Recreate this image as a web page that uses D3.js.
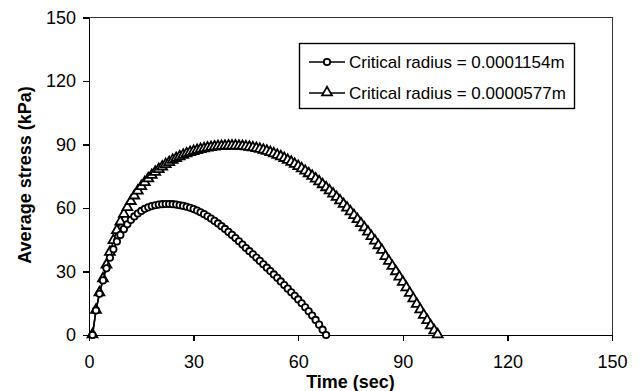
<!DOCTYPE html>
<head>
<meta charset="utf-8">
<title>Average stress vs time</title>
<script src="https://d3js.org/d3.v7.min.js"></script>
<style>
body { margin: 0; background: #fff; }
.axis path, .axis line { stroke: #000; stroke-width: 1.4; shape-rendering: crispEdges; }
.axis text { font-family: "Liberation Sans", Arial, sans-serif; font-size: 18px; fill: #000; }
.frame { fill: none; stroke: #333; stroke-width: 1; shape-rendering: crispEdges; }
.serie { fill: none; stroke: #000; stroke-width: 1.6; }
.mark { fill: #fff; stroke: #000; stroke-width: 1.8; }
.title { font-family: "Liberation Sans", Arial, sans-serif; font-weight: bold; font-size: 18px; fill: #000; }
.legend text { font-family: "Liberation Sans", Arial, sans-serif; font-size: 17px; fill: #000; }
</style>
</head>
<body>
<div id="container"></div>
<script>

//------------------------DATA-------------------------//

// time in seconds, shared by both runs
const timeA = d3.range(1, 69);   // 1..68 s
const timeB = d3.range(1, 101);  // 1..100 s

// average stress (kPa), critical radius = 0.0001154 m
const stressA = [
  0, 11.6, 19.5, 25.8, 31.5, 36.5, 40.5, 44.2, 47.3, 50.0,
  52.3, 54.3, 56.0, 57.4, 58.6, 59.6, 60.3, 60.9, 61.3, 61.6,
  61.8, 61.9, 61.9, 61.8, 61.6, 61.3, 61.0, 60.6, 60.1, 59.5,
  58.8, 58.0, 57.1, 56.1, 55.0, 53.9, 52.7, 51.4, 50.1, 48.7,
  47.3, 45.8, 44.3, 42.7, 41.1, 39.6, 38.1, 36.6, 35.0, 33.4,
  31.8, 30.2, 28.6, 27.0, 25.3, 23.6, 21.9, 20.2, 18.5, 16.8,
  15.0, 13.1, 11.2, 9.2, 7.1, 4.9, 2.5, 0
];

// average stress (kPa), critical radius = 0.0000577 m
const stressB = [
  0, 11.6, 19.8, 26.5, 33.0, 39.0, 44.5, 49.2, 53.3, 56.9,
  60.1, 63.0, 65.6, 67.9, 70.0, 71.9, 73.7, 75.3, 76.8, 78.1,
  79.3, 80.4, 81.4, 82.4, 83.3, 84.1, 84.8, 85.5, 86.1, 86.6,
  87.1, 87.5, 87.9, 88.2, 88.5, 88.7, 88.9, 89.0, 89.1, 89.2,
  89.2, 89.2, 89.1, 89.0, 88.8, 88.6, 88.3, 88.0, 87.6, 87.2,
  86.7, 86.1, 85.5, 84.8, 84.1, 83.3, 82.4, 81.5, 80.5, 79.5,
  78.4, 77.3, 76.1, 74.9, 73.6, 72.3, 70.9, 69.5, 68.0, 66.5,
  64.9, 63.3, 61.6, 59.9, 58.1, 56.3, 54.4, 52.5, 50.5, 48.5,
  46.4, 44.3, 42.1, 39.9, 37.0, 34.7, 32.3, 29.8, 27.3, 24.8,
  22.2, 19.6, 17.0, 14.4, 11.8, 9.2, 6.7, 4.2, 1.9, 0
];

const xTicks = [0, 30, 60, 90, 120, 150];
const yTicks = [0, 30, 60, 90, 120, 150];
const legendLabels = ["Critical radius = 0.0001154m", "Critical radius = 0.0000577m"];

//------------------------SVG-------------------------//

const W = 639, H = 391;
const margin = {top: 17.5, right: 27, bottom: 56, left: 89};

const svg = d3.select("#container").append("svg")
    .attr("width", W)
    .attr("height", H);

const xScale = d3.scaleLinear().domain([0, 150]).range([margin.left, W - margin.right]);
const yScale = d3.scaleLinear().domain([0, 150]).range([H - margin.bottom, margin.top]);

// top + right frame of the plot area
svg.append("rect")
    .attr("class", "frame")
    .attr("x", xScale(0))
    .attr("y", yScale(150))
    .attr("width", xScale(150) - xScale(0))
    .attr("height", yScale(0) - yScale(150));

//------------------------AXES-------------------------//

svg.append("g")
    .attr("class", "axis")
    .attr("transform", "translate(0," + yScale(0) + ")")
    .call(d3.axisBottom(xScale).tickValues(xTicks).tickSize(6).tickSizeOuter(0).tickPadding(14));

svg.append("g")
    .attr("class", "axis")
    .attr("transform", "translate(" + xScale(0) + ",0)")
    .call(d3.axisLeft(yScale).tickValues(yTicks).tickSize(6).tickSizeOuter(0).tickPadding(7));

svg.append("text")
    .attr("class", "title")
    .attr("x", (xScale(0) + xScale(150)) / 2)
    .attr("y", 388)
    .attr("text-anchor", "middle")
    .text("Time (sec)");

svg.append("text")
    .attr("class", "title")
    .attr("transform", "translate(31," + 175 + ") rotate(-90)")
    .attr("text-anchor", "middle")
    .text("Average stress (kPa)");

//------------------------SERIES-------------------------//

const line = d3.line()
    .x(d => xScale(d.t))
    .y(d => yScale(d.v));

const seriesA = timeA.map((t, i) => ({t: t, v: stressA[i]}));
const seriesB = timeB.map((t, i) => ({t: t, v: stressB[i]}));

const tri = d3.symbol().type(d3.symbolTriangle).size(42);

// triangles first, circles drawn on top
svg.append("path").attr("class", "serie").attr("d", line(seriesB));
svg.selectAll(".triB")
    .data(seriesB)
    .enter().append("path")
    .attr("class", "mark")
    .attr("d", tri)
    .attr("transform", d => "translate(" + xScale(d.t) + "," + (yScale(d.v) - 0.5) + ")");

svg.append("path").attr("class", "serie").attr("d", line(seriesA));
svg.selectAll(".cirA")
    .data(seriesA)
    .enter().append("circle")
    .attr("class", "mark")
    .attr("cx", d => xScale(d.t))
    .attr("cy", d => yScale(d.v))
    .attr("r", 3.2);

//------------------------LEGEND-------------------------//

const legend = svg.append("g").attr("class", "legend");

legend.append("rect")
    .attr("x", 299.5).attr("y", 43.5)
    .attr("width", 275).attr("height", 65)
    .attr("fill", "#fff")
    .attr("stroke", "#000")
    .attr("stroke-width", 1.4);

legendLabels.forEach(function(lbl, i) {
    const ly = 62 + i * 31;
    legend.append("line")
        .attr("x1", 309).attr("x2", 345)
        .attr("y1", ly).attr("y2", ly)
        .attr("stroke", "#000").attr("stroke-width", 1.6);
    if (i === 0) {
        legend.append("circle").attr("class", "mark")
            .attr("cx", 327).attr("cy", ly).attr("r", 3.2);
    } else {
        legend.append("path").attr("class", "mark")
            .attr("d", tri)
            .attr("transform", "translate(327," + (ly - 0.5) + ")");
    }
    legend.append("text")
        .attr("x", 349)
        .attr("y", ly + 6)
        .text(lbl);
});

</script>
</body>
